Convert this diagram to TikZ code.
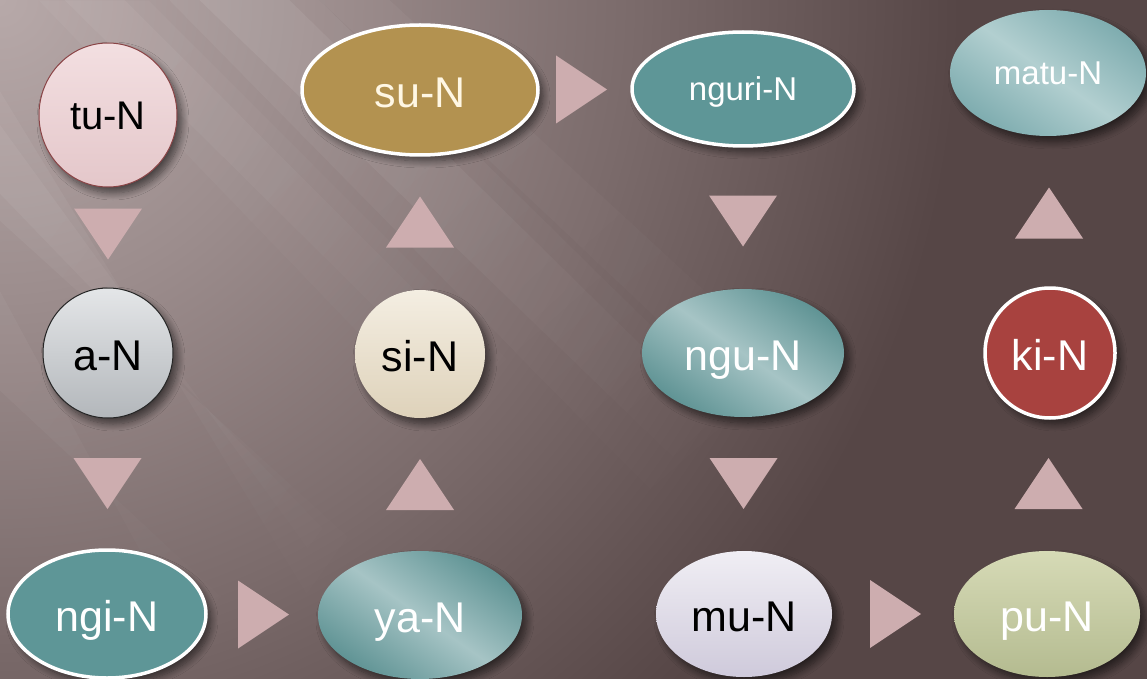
\documentclass[tikz,border=0pt]{standalone}
\usepackage{fontspec}
\setmainfont{Liberation Sans}
\usetikzlibrary{shapes.geometric,shadows.blur,fadings,calc}

% background
\definecolor{bgdark}{HTML}{564646}
\definecolor{glowA}{HTML}{B7A9A9}
\definecolor{glowB}{HTML}{9C8D8D}
\definecolor{glowC}{HTML}{7B6B6B}
% arrow heads
\definecolor{trifill}{HTML}{CDADAF}
% node colours
\definecolor{pinkA}{HTML}{F3DFE1}
\definecolor{pinkB}{HTML}{E4C7CA}
\definecolor{pinkEdge}{HTML}{8A4446}
\definecolor{silverA}{HTML}{E4E6E8}
\definecolor{silverB}{HTML}{B3B7BB}
\definecolor{tealFlat}{HTML}{5E9697}
\definecolor{tealA}{HTML}{5F9394}
\definecolor{tealHi}{HTML}{A6C4C5}
\definecolor{tealLA}{HTML}{7EACAF}
\definecolor{tealLHi}{HTML}{B2CFD0}
\definecolor{gold}{HTML}{B39250}
\definecolor{creamA}{HTML}{F4EEE2}
\definecolor{creamB}{HTML}{DED2BA}
\definecolor{lilacA}{HTML}{F0EEF4}
\definecolor{lilacB}{HTML}{CFCADB}
\definecolor{brick}{HTML}{A8423F}
\definecolor{oliveA}{HTML}{D6DAB6}
\definecolor{oliveB}{HTML}{B4BB90}
\definecolor{sutext}{HTML}{FFF7E4}

% corner light: TikZ maps 25bp of a radial shading onto the path's radius (1500pt here)
\pgfdeclareradialshading{cornerglow}{\pgfpointorigin}{color(0bp)=(glowA); color(5bp)=(glowB); color(10.5bp)=(glowC); color(16bp)=(bgdark); color(25bp)=(bgdark); color(50bp)=(bgdark)}

\tikzset{
  bubble/.style={ellipse, inner sep=0pt, text depth=0pt, text height=34.5pt,
    font=\fontsize{43}{43}\selectfont,
    blur shadow={shadow xshift=5pt, shadow yshift=-6pt, shadow blur radius=7pt,
      shadow blur steps=10, shadow opacity=55}},
  small/.style={font=\fontsize{33}{33}\selectfont, text height=24pt},
  dims/.style 2 args={minimum width=#1pt, minimum height=#2pt},
  ring/.style={draw=white, line width=3.5pt},
  flat/.style={fill=#1},
  gloss/.style 2 args={left color=#1, right color=#1, middle color=#2, shading angle=-35},
  ray/.style={white, opacity=#1, path fading=east, fading angle=-44},
  pics/tridown/.style={code={\fill[trifill] (-34,-25.5) -- (34,-25.5) -- (0,25.5) -- cycle;}},
  pics/triup/.style={code={\fill[trifill] (-34,25.5) -- (34,25.5) -- (0,-25.5) -- cycle;}},
  pics/triright/.style={code={\fill[trifill] (-25.5,-34) -- (25.5,0) -- (-25.5,34) -- cycle;}},
}

\begin{document}
\begin{tikzpicture}[x=1pt,y=-1pt]
\useasboundingbox (0,0) rectangle (1147,679);
\clip (0,0) rectangle (1147,679);

% dark backdrop lit from the upper left corner
\fill[bgdark] (0,0) rectangle (1147,679);
\fill[shading=cornerglow] (0,0) circle (1500);

% diagonal light rays, each softened by a wider faint copy
\fill[ray=.05] (170,0) -- (320,0) -- (850,520) -- (740,580) -- cycle;
\fill[ray=.07] (200,0) -- (290,0) -- (820,520) -- (770,550) -- cycle;
\fill[ray=.04] (40,0) -- (150,0) -- (620,470) -- (540,520) -- cycle;
\fill[ray=.05] (65,0) -- (125,0) -- (595,470) -- (565,495) -- cycle;
\fill[ray=.05] (0,90) -- (0,220) -- (440,620) -- (360,680) -- cycle;
\fill[ray=.05] (0,120) -- (0,190) -- (415,620) -- (385,650) -- cycle;
\fill[ray=.04] (0,290) -- (0,390) -- (310,679) -- (210,679) -- cycle;
\fill[ray=.04] (320,0) -- (390,0) -- (910,480) -- (860,510) -- cycle;

% column 1
\node[bubble, font=\fontsize{40}{40}\selectfont, text height=30pt, dims={138}{144}, draw=pinkEdge, line width=1pt, top color=pinkA, bottom color=pinkB, text=black] (tu) at (108,115) {tu-N};
\node[bubble, dims={130}{130}, draw=black!85, line width=1pt, top color=silverA, bottom color=silverB, text=black] (a) at (108,353) {a-N};
\node[bubble, dims={198}{128}, ring, flat=tealFlat, text=white] (ngi) at (107,614) {ngi-N};

% column 2
\node[bubble, dims={236}{130}, ring, flat=gold, text=sutext] (su) at (420,90) {su-N};
\node[bubble, dims={130}{128}, top color=creamA, bottom color=creamB, text=black] (si) at (420,354) {si-N};
\node[bubble, dims={204}{128}, gloss={tealA}{tealHi}, text=white] (ya) at (420,615) {ya-N};

% column 3
\node[bubble, small, dims={222}{114}, ring, flat=tealFlat, text=white] (nguri) at (743,89) {nguri-N};
\node[bubble, dims={202}{128}, gloss={tealA}{tealHi}, text=white] (ngu) at (743,353) {ngu-N};
\node[bubble, dims={176}{126}, top color=lilacA, bottom color=lilacB, text=black] (mu) at (744,614) {mu-N};

% column 4
\node[bubble, small, dims={196}{126}, gloss={tealLA}{tealLHi}, text=white] (matu) at (1048,73) {matu-N};
\node[bubble, dims={130}{130}, ring, flat=brick, text=white] (ki) at (1050,353) {ki-N};
\node[bubble, dims={186}{126}, top color=oliveA, bottom color=oliveB, text=white] (pu) at (1047,614) {pu-N};

% flow markers between neighbouring nodes
\pic at ($(tu)!0.5!(a)$) {tridown};
\pic at ($(a)!0.5!(ngi)$) {tridown};
\pic at ($(ngi)!0.5!(ya)$) {triright};
\pic at ($(ya)!0.5!(si)$) {triup};
\pic at ($(si)!0.5!(su)$) {triup};
\pic at ($(su)!0.5!(nguri)$) {triright};
\pic at ($(nguri)!0.5!(ngu)$) {tridown};
\pic at ($(ngu)!0.5!(mu)$) {tridown};
\pic at ($(mu)!0.5!(pu)$) {triright};
\pic at ($(pu)!0.5!(ki)$) {triup};
\pic at ($(ki)!0.5!(matu)$) {triup};
\end{tikzpicture}
\end{document}
